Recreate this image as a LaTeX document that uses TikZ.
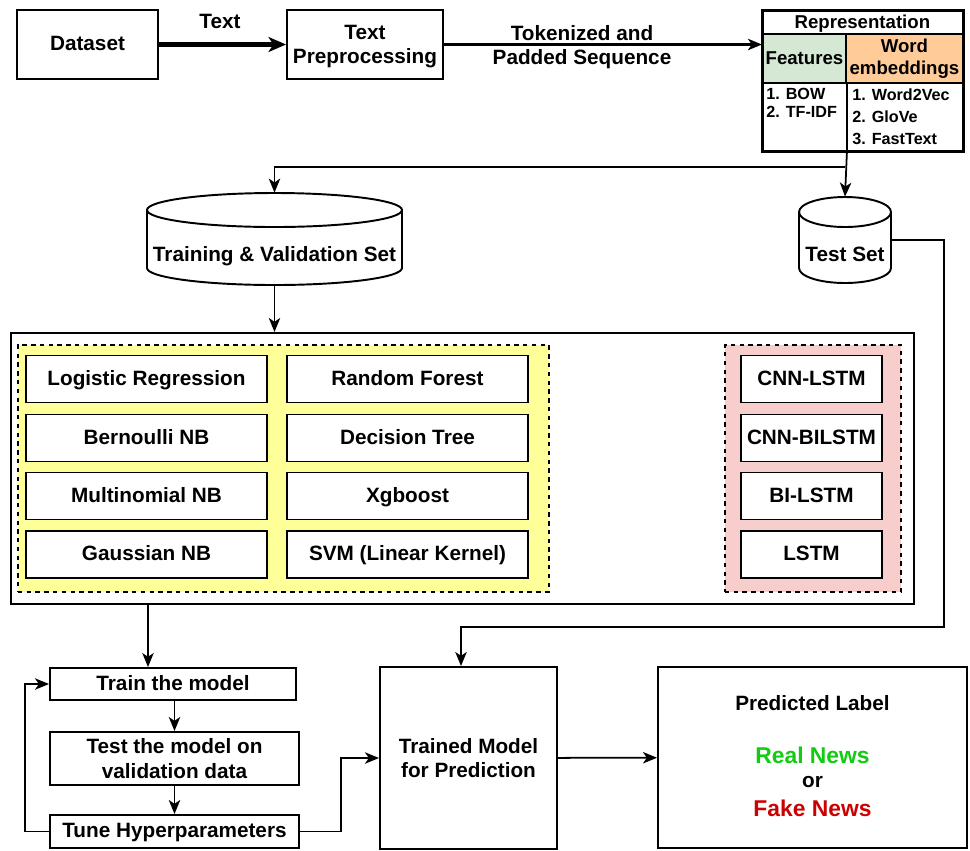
\documentclass[tikz,border=0pt]{standalone}
\usepackage{fontspec}
\setmainfont{Liberation Sans}
\usetikzlibrary{arrows.meta,calc}
\definecolor{mlyellow}{HTML}{FFFF99}
\definecolor{dlpink}{HTML}{F8CECC}
\definecolor{featgreen}{HTML}{D5E8D4}
\definecolor{weorange}{HTML}{FFCC99}
\definecolor{realgreen}{HTML}{11CC11}
\definecolor{fakered}{HTML}{CC0000}
\newcommand\lblfont{\fontsize{11.8}{14}\selectfont\bfseries}
\newcommand\repfont{\fontsize{10.6}{12.5}\selectfont\bfseries}
\newcommand\newsfont{\fontsize{13}{15}\selectfont\bfseries}
\newcommand\cylpath[5]{%
  \filldraw[fill=white, line width=1.1pt] (#1,#3+#5) -- (#1,#4-#5)
    arc[start angle=180, end angle=0, x radius={(#2-#1)/2}, y radius=#5]
    -- (#2,#3+#5)
    arc[start angle=0, end angle=-180, x radius={(#2-#1)/2}, y radius=#5] -- cycle;
  \draw[line width=1.1pt] (#1,#3+#5)
    arc[start angle=180, end angle=0, x radius={(#2-#1)/2}, y radius=#5];
}
\tikzset{
  sz/.style 2 args={minimum width={#1*0.02cm}, minimum height={#2*0.02cm}},
  box/.style={draw, line width=1.1pt, fill=white, inner sep=0pt, align=center, font=\lblfont, text depth=0pt},
  onel/.style={text height=0.72em},
  lbl/.style={inner sep=0pt, align=center, font=\lblfont, text depth=0pt},
  conn/.style={line width=1pt, -{Stealth[length=8pt, width=6.5pt, inset=2.2pt]}},
  thickconn/.style={line width=2.3pt, -{Stealth[length=10pt, width=8.5pt, inset=2.8pt]}},
  dashbox/.style={draw, line width=1pt, dash pattern=on 2.5pt off 2.5pt, inner sep=0pt},
}
\begin{document}
\begin{tikzpicture}[x=0.02cm, y=-0.02cm]
\useasboundingbox (0,0) rectangle (970,850);

% top row
\node[box, onel, sz={141}{69}] (dataset) at (87.5,44.5) {Dataset};
\node[box, sz={156}{69}] (prep) at (365,44.5) {Text\\Preprocessing};

% representation table
\node[draw, line width=1.1pt, fill=white, sz={200}{140}, anchor=north west, inner sep=0pt] (rep) at (762,10) {};
\node[inner sep=0pt, sz={200}{23}, anchor=north west, font=\repfont, text height=0.72em, text depth=0pt] (reptitle) at (762,10) {Representation};
\node[draw, line width=1.1pt, fill=featgreen, sz={83}{49}, anchor=north west, inner sep=0pt, font=\repfont, text height=0.72em, text depth=0pt] (feat) at (762,33) {Features};
\node[draw, line width=1.1pt, fill=weorange, sz={117}{49}, anchor=north west, inner sep=0pt, align=center, font=\repfont] (we) at (845,33) {Word\\embeddings};
\draw[line width=1.1pt] (feat.south east) -- (feat.south east |- rep.south);
\node[anchor=north west, inner sep=0pt, align=left, font=\fontsize{9.2}{10.4}\selectfont\bfseries] (featlist) at (766,88) {1. BOW\\2. TF-IDF};
\node[anchor=north west, inner sep=0pt, align=left, font=\fontsize{9.2}{12.6}\selectfont\bfseries] (welist) at (852,88) {1. Word2Vec\\2. GloVe\\3. FastText};
\draw[line width=1.1pt] (rep.north west) rectangle (rep.south east);

\draw[thickconn] (dataset) -- (prep);
\node[lbl, onel] (ltext) at (220,22) {Text};
\draw[conn, line width=1.3pt] (prep.east) -- (prep.east -| rep.west);
\node[lbl] (ltok) at (582,45) {Tokenized and\\Padded Sequence};

% cylinders
\cylpath{147}{402}{193}{285}{17}
\node[sz={255}{92}, inner sep=0pt] (train) at (274.5,239) {};
\node[lbl, onel] (trainlbl) at (274.5,255) {Training \& Validation Set};
\cylpath{799}{891}{197}{283}{15}
\node[sz={92}{86}, inner sep=0pt] (test) at (845,240) {};
\node[lbl, onel] (testlbl) at (845,255) {Test Set};

\draw[conn] (rep.south -| feat.south east) -- (test.north);
\coordinate (split) at (845,167);
\draw[conn] (split) -| (train.north);

% big model box
\node[draw, line width=1.1pt, sz={903}{271}, anchor=north west, inner sep=0pt] (big) at (10,332) {};
\draw[conn] (train.south) -- (train.south |- big.north);
\node[dashbox, fill=mlyellow, sz={531}{247}, anchor=north west] (ml) at (17,344) {};
\node[dashbox, fill=dlpink, sz={176}{247}, anchor=north west] (dl) at (724,344) {};

\node[box, onel, sz={241}{47}] (lr) at (146.5,379) {Logistic Regression};
\node[box, onel, sz={241}{47}] (bnb) at (146.5,438) {Bernoulli NB};
\node[box, onel, sz={241}{47}] (mnb) at (146.5,496) {Multinomial NB};
\node[box, onel, sz={241}{47}] (gnb) at (146.5,554.5) {Gaussian NB};
\node[box, onel, sz={241}{47}] (rf) at (407.5,379) {Random Forest};
\node[box, onel, sz={241}{47}] (dt) at (407.5,438) {Decision Tree};
\node[box, onel, sz={241}{47}] (xgb) at (407.5,496) {Xgboost};
\node[box, onel, sz={241}{47}] (svm) at (407.5,554.5) {SVM (Linear Kernel)};

\node[box, onel, sz={141}{47}] (cnnlstm) at (811.5,379) {CNN-LSTM};
\node[box, onel, sz={141}{47}] (cnnbilstm) at (811.5,438) {CNN-BILSTM};
\node[box, onel, sz={141}{47}] (bilstm) at (811.5,496) {BI-LSTM};
\node[box, onel, sz={141}{47}] (lstm) at (811.5,554.5) {LSTM};

% bottom section
\node[box, onel, sz={246}{32}] (trainm) at (173,684) {Train the model};
\node[box, sz={249}{53}] (testm) at (174.5,758.5) {Test the model on\\validation data};
\node[box, onel, sz={249}{33}] (tune) at (174.5,831.5) {Tune Hyperparameters};
\node[box, sz={177}{182}] (trained) at (468.5,758) {Trained Model\\for Prediction};
\node[draw, line width=1.1pt, fill=white, sz={309}{181}, inner sep=0pt] (pred) at (812.5,757.5) {};
\node[lbl, onel] (plabel) at (812.5,704) {Predicted Label};
\node[inner sep=0pt, font=\newsfont, text=realgreen, text height=0.72em, text depth=0pt] (real) at (812.5,757) {Real News};
\node[lbl, text height=0.52em] (orlbl) at (812.5,783) {or};
\node[inner sep=0pt, font=\newsfont, text=fakered, text height=0.72em, text depth=0pt] (fake) at (812.5,810) {Fake News};

\coordinate (bigout) at (148,603);
\draw[conn] (bigout) -- (bigout |- trainm.north);
\draw[conn] (trainm.south -| testm.north) -- (testm.north);
\draw[conn] (testm) -- (tune);
\draw[conn] (tune.west) -- ++(-24,0) |- (trainm.west);
\draw[conn] (tune.east) -- ++(41,0) |- (trained.west);
\draw[conn] (trained) -- (pred);
\coordinate (c1) at (944,627);
\draw[conn] (test.east) -| (c1) -| ([xshift=-0.15cm]trained.north);
\end{tikzpicture}
\end{document}
